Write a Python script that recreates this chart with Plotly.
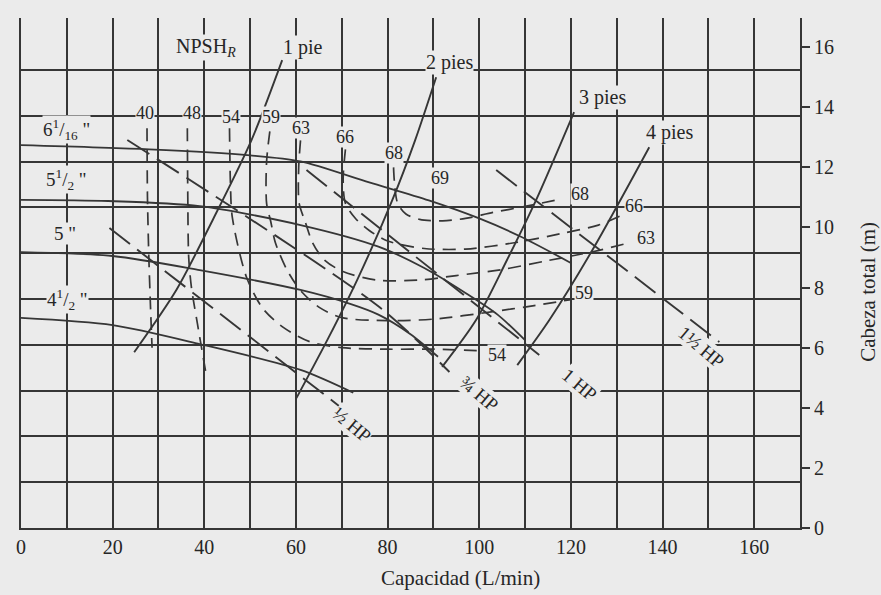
import plotly.graph_objects as go

# ---------------- data ----------------
q_tick_vals = [0, 20, 40, 60, 80, 100, 120, 140, 160]
h_tick_vals = [0, 2, 4, 6, 8, 10, 12, 14, 16]

# impeller head curves (Q in L/min, H in m)
imp_6116_q = [0, 28, 50, 61, 76, 89, 100, 109, 120]
imp_6116_h = [12.74, 12.6, 12.4, 12.2, 11.5, 10.9, 10.3, 9.7, 8.82]
imp_512_q = [0, 19, 39, 61, 78, 88, 97, 104, 110]
imp_512_h = [10.92, 10.88, 10.71, 10.08, 9.36, 8.65, 7.82, 7.1, 6.25]
imp_5_q = [0, 20, 39, 61, 72, 78, 85, 91]
imp_5_h = [9.18, 9.05, 8.58, 7.92, 7.45, 7.1, 6.45, 5.7]
imp_412_q = [0, 20, 39, 61, 72.5]
imp_412_h = [6.99, 6.75, 6.12, 5.26, 4.5]

# NPSH required lines
npsh1_q = [24.7, 33.9, 42.0, 50.3, 57.0]
npsh1_h = [5.85, 7.92, 10.3, 12.91, 15.57]
npsh2_q = [60.1, 67.0, 73.5, 81.0, 86.0, 90.6]
npsh2_h = [4.32, 6.3, 8.3, 10.9, 12.9, 15.0]
npsh3_q = [91.9, 99.3, 106.0, 112.4, 120.7]
npsh3_h = [5.36, 6.92, 8.9, 10.91, 13.84]
npsh4_q = [108.3, 115.3, 124.7, 137.1]
npsh4_h = [5.42, 6.92, 9.25, 12.67]

# efficiency iso-lines (%)
eff40_q = [27.5, 27.6, 27.9, 28.3, 28.6]
eff40_h = [13.3, 11.0, 9.0, 7.2, 6.0]
eff48_q = [36.3, 36.4, 36.6, 37.2, 38.5, 40.3]
eff48_h = [13.3, 11.0, 9.0, 8.0, 6.8, 5.2]
eff54_q = [45.5, 45.7, 46.1, 49.2, 52.7, 57.0, 63.0, 70.0, 80.0, 90.0, 100.0]
eff54_h = [13.3, 11.5, 10.35, 8.35, 7.32, 6.7, 6.2, 6.0, 5.95, 5.95, 5.9]
eff59_q = [54.3, 53.6, 53.6, 54.5, 55.5, 58.0, 61.0, 65.0, 70.0, 80.0, 90.0, 103.0, 112.0, 120.0]
eff59_h = [13.2, 12.2, 10.8, 10.2, 9.5, 8.6, 7.9, 7.35, 7.0, 6.9, 6.95, 7.2, 7.4, 7.6]
eff63_q = [61.0, 60.6, 60.7, 62.0, 63.6, 66.0, 70.0, 77.5, 87.0, 95.0, 105.0, 115.0, 125.0, 133.0]
eff63_h = [12.9, 12.0, 10.8, 10.2, 9.5, 8.95, 8.55, 8.25, 8.25, 8.4, 8.6, 8.9, 9.2, 9.5]
eff66_q = [70.8, 70.3, 70.8, 73.0, 76.0, 80.0, 88.0, 97.0, 108.0, 118.0, 126.0, 131.0]
eff66_h = [12.6, 11.6, 10.8, 10.3, 9.9, 9.55, 9.3, 9.28, 9.5, 9.8, 10.08, 10.4]
eff68_q = [81.3, 81.5, 82.2, 84.0, 87.0, 92.0, 97.0, 103.0, 110.0, 118.0]
eff68_h = [12.0, 11.5, 10.8, 10.45, 10.27, 10.22, 10.3, 10.5, 10.7, 10.95]

# power lines
hp_half_q = [19.3, 70.5]
hp_half_h = [9.98, 3.93]
hp_3q_q = [23.2, 78.2, 93.5]
hp_3q_h = [12.91, 7.35, 5.19]
hp_1_q = [62.3, 113.1]
hp_1_h = [11.91, 5.76]
hp_1half_q = [103.7, 152.4]
hp_1half_h = [11.91, 6.19]

# labels
imp_label_text = ['6<sup>1</sup>/<sub>16</sub> "', '5<sup>1</sup>/<sub>2</sub> "', '5 "', '4<sup>1</sup>/<sub>2</sub> "']
imp_label_q = [10.0, 10.0, 9.5, 10.1]
imp_label_h = [13.27, 11.58, 9.8, 7.62]

eff_label_text = ['40', '48', '54', '59', '63', '66', '68', '69', '68', '66', '63', '59', '54']
eff_label_q = [27.0, 37.4, 45.8, 54.5, 61.0, 70.8, 81.3, 91.5, 122.0, 133.7, 136.4, 122.9, 103.9]
eff_label_h = [13.8, 13.8, 13.67, 13.67, 13.31, 13.0, 12.47, 11.64, 11.11, 10.7, 9.65, 7.82, 5.76]

npsh_label_text = ['NPSH<sub><i>R</i></sub>', '1 pie', '2 pies', '3 pies', '4 pies']
npsh_label_q = [40.4, 61.6, 93.5, 126.8, 141.5]
npsh_label_h = [16.0, 16.0, 15.5, 14.34, 13.17]

hp_label_text = ['½ HP', '¾ HP', '1 HP', '1½ HP']
hp_label_q = [72.1, 100.0, 121.8, 148.6]
hp_label_h = [3.43, 4.49, 4.76, 6.02]

FT_TO_M = 0.3048
grid_ft = [0, 5, 10, 15, 20, 25, 30, 35, 40, 45, 50]

# ---------------- style ----------------
BG = '#ebebeb'
INK = '#363636'
TXT = '#262626'
FONT = 'Liberation Serif'
X_MAX = 170
Y_MAX = 16.97

fig = go.Figure()

def add_line(q, h, width=1.6, dash=None, yaxis='y'):
    fig.add_trace(go.Scatter(
        x=q, y=h, mode='lines', yaxis=yaxis,
        line=dict(color=INK, width=width, dash=dash, shape='spline', smoothing=0.8),
        hoverinfo='skip', showlegend=False))

for q, h in [(imp_6116_q, imp_6116_h), (imp_512_q, imp_512_h),
             (imp_5_q, imp_5_h), (imp_412_q, imp_412_h)]:
    add_line(q, h, width=1.8)

# NPSH lines are drawn against the right-hand (metres) axis
for q, h in [(npsh1_q, npsh1_h), (npsh2_q, npsh2_h),
             (npsh3_q, npsh3_h), (npsh4_q, npsh4_h)]:
    add_line(q, h, width=1.9, yaxis='y2')

for q, h in [(eff40_q, eff40_h), (eff48_q, eff48_h), (eff54_q, eff54_h),
             (eff59_q, eff59_h), (eff63_q, eff63_h), (eff66_q, eff66_h),
             (eff68_q, eff68_h)]:
    add_line(q, h, width=1.7, dash='13px,8px')

for q, h in [(hp_half_q, hp_half_h), (hp_3q_q, hp_3q_h),
             (hp_1_q, hp_1_h), (hp_1half_q, hp_1half_h)]:
    add_line(q, h, width=1.9, dash='26px,9px')

annotations = []

def label(txt, x, y, size=19, angle=0, bg=BG):
    annotations.append(dict(
        text=txt, x=x, y=y, xref='x', yref='y', showarrow=False,
        xanchor='center', yanchor='middle',
        font=dict(family=FONT, size=size, color=TXT),
        textangle=angle, bgcolor=bg, borderpad=0))

for t, x, y in zip(imp_label_text, imp_label_q, imp_label_h):
    label(t, x, y, size=19)
for t, x, y in zip(eff_label_text, eff_label_q, eff_label_h):
    label(t, x, y, size=18)
for t, x, y in zip(npsh_label_text, npsh_label_q, npsh_label_h):
    label(t, x, y, size=20)
for t, x, y in zip(hp_label_text, hp_label_q, hp_label_h):
    label(t, x, y, size=19, angle=40)

# axis titles
annotations.append(dict(
    text='Capacidad (L/min)', x=96, y=-0.098, xref='x', yref='paper',
    xanchor='center', yanchor='middle',
    showarrow=False, font=dict(family=FONT, size=21, color=TXT)))
annotations.append(dict(
    text='Cabeza total (m)', x=1.087, y=7.85, xref='paper', yref='y',
    xanchor='center', yanchor='middle',
    showarrow=False, textangle=-90, font=dict(family=FONT, size=21, color=TXT)))

fig.update_layout(
    width=881, height=595,
    margin=dict(l=21, r=81, t=18, b=67),
    paper_bgcolor=BG, plot_bgcolor=BG,
    annotations=annotations,
    xaxis=dict(
        range=[0, X_MAX], tickmode='array', tickvals=q_tick_vals,
        showgrid=True, gridcolor=INK, gridwidth=1.7,
        minor=dict(dtick=10, tick0=0, showgrid=True, gridcolor=INK, gridwidth=1.7),
        showline=True, linecolor=INK, linewidth=2, zeroline=False,
        ticks='', tickfont=dict(family=FONT, size=20, color=TXT),
        fixedrange=True),
    yaxis=dict(
        range=[0, Y_MAX], tickmode='array',
        tickvals=[v * FT_TO_M for v in grid_ft],
        showticklabels=False, ticks='',
        showgrid=True, gridcolor=INK, gridwidth=1.7,
        showline=True, linecolor=INK, linewidth=2, zeroline=False,
        fixedrange=True),
    yaxis2=dict(
        range=[0, Y_MAX], overlaying='y', side='right', anchor='x',
        tickmode='array', tickvals=h_tick_vals,
        ticks='outside', ticklen=8, tickwidth=1.6, tickcolor=INK,
        showline=True, linecolor=INK, linewidth=2, showgrid=False, zeroline=False,
        tickfont=dict(family=FONT, size=20, color=TXT),
        fixedrange=True),
)

fig.write_html(
    'out.html',
    config={'displayModeBar': False},
    post_script="document.body.style.margin='0';document.body.style.background='#ebebeb';")
